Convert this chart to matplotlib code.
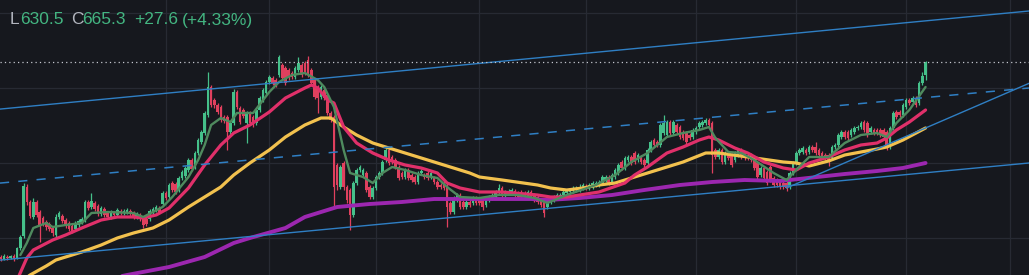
import matplotlib
matplotlib.use("Agg")
import matplotlib.pyplot as plt
import numpy as np

# OHLC (one candle per bar, left to right)
opens = [
    276, 272, 276, 274, 278, 274, 294, 318, 416, 386,
    356, 386, 366, 354, 346, 342, 334, 320, 356, 358,
    350, 344, 338, 332, 340, 346, 350, 386, 376, 384,
    378, 362, 372, 364, 356, 364, 360, 368, 364, 366,
    368, 364, 356, 360, 354, 352, 352, 366, 370, 374,
    382, 404, 396, 424, 422, 410, 434, 438, 450, 470,
    456, 484, 506, 524, 560, 616, 590, 580, 576, 556,
    556, 526, 544, 606, 574, 570, 544, 564, 556, 544,
    570, 590, 604, 626, 634, 630, 640, 660, 654, 650,
    644, 636, 650, 660, 664, 670, 650, 630, 616, 596,
    610, 600, 564, 556, 460, 416, 464, 416, 410, 360,
    424, 450, 440, 444, 416, 396, 414, 436, 444, 470,
    490, 476, 470, 456, 444, 436, 450, 440, 436, 426,
    444, 440, 444, 436, 434, 426, 420, 424, 420, 384,
    366, 390, 400, 386, 376, 386, 384, 394, 390, 390,
    380, 390, 394, 396, 406, 414, 400, 404, 406, 408,
    404, 402, 404, 398, 406, 400, 396, 390, 390, 376,
    386, 390, 394, 396, 400, 404, 406, 408, 410, 410,
    414, 418, 414, 416, 420, 420, 424, 430, 436, 426,
    436, 444, 466, 454, 470, 476, 484, 470, 476, 470,
    464, 490, 510, 506, 500, 524, 520, 546, 524, 540,
    536, 526, 524, 520, 516, 526, 536, 540, 544, 550,
    544, 490, 476, 490, 466, 484, 480, 470, 480, 490,
    484, 480, 480, 476, 464, 440, 454, 446, 456, 434,
    430, 426, 424, 424, 416, 444, 464, 484, 486, 490,
    486, 496, 496, 490, 484, 480, 480, 474, 496, 500,
    516, 526, 526, 520, 526, 534, 536, 546, 544, 526,
    530, 530, 530, 530, 526, 496, 534, 566, 566, 560,
    576, 590, 586, 594, 584, 624, 641,
]
closes = [
    272, 278, 274, 278, 272, 294, 316, 418, 386, 358,
    386, 360, 340, 342, 336, 332, 324, 356, 364, 348,
    338, 332, 328, 344, 348, 352, 386, 374, 388, 372,
    362, 374, 360, 356, 366, 360, 370, 364, 368, 370,
    362, 356, 362, 352, 340, 342, 368, 372, 376, 366,
    404, 394, 420, 410, 406, 434, 446, 454, 470, 452,
    484, 510, 526, 564, 616, 580, 580, 566, 550, 548,
    526, 544, 606, 576, 546, 558, 564, 544, 540, 570,
    594, 610, 626, 636, 624, 620, 676, 634, 624, 634,
    636, 654, 664, 640, 644, 640, 624, 596, 594, 616,
    594, 564, 550, 416, 420, 456, 416, 390, 360, 424,
    450, 456, 450, 410, 396, 414, 436, 444, 466, 490,
    464, 466, 456, 434, 436, 450, 434, 430, 426, 444,
    448, 436, 434, 444, 426, 416, 416, 414, 376, 366,
    394, 400, 376, 376, 386, 380, 394, 384, 384, 376,
    390, 396, 400, 406, 414, 400, 406, 408, 410, 400,
    396, 396, 398, 406, 396, 390, 386, 380, 364, 390,
    394, 396, 400, 400, 406, 408, 410, 414, 414, 416,
    420, 414, 420, 424, 424, 426, 436, 436, 424, 440,
    450, 460, 454, 474, 476, 464, 466, 480, 466, 460,
    490, 506, 500, 500, 540, 544, 546, 524, 546, 526,
    516, 514, 506, 514, 530, 534, 544, 546, 550, 540,
    480, 476, 490, 466, 484, 474, 460, 484, 490, 476,
    474, 474, 470, 454, 436, 454, 434, 424, 430, 420,
    420, 416, 416, 414, 444, 464, 484, 490, 494, 484,
    496, 490, 484, 480, 476, 474, 470, 496, 500, 520,
    526, 516, 514, 530, 534, 536, 544, 530, 520, 534,
    524, 524, 520, 516, 496, 534, 564, 556, 560, 580,
    590, 584, 594, 580, 624, 637.7, 665.3,
]
highs = [
    280, 282, 280, 280, 282, 296, 320, 424, 422, 390,
    394, 390, 370, 358, 350, 346, 338, 362, 368, 362,
    354, 348, 342, 348, 352, 356, 390, 390, 404, 388,
    382, 378, 376, 368, 370, 368, 374, 372, 372, 374,
    372, 368, 366, 364, 358, 356, 372, 376, 380, 378,
    408, 408, 424, 428, 426, 438, 450, 458, 474, 474,
    488, 514, 530, 568, 646, 620, 594, 584, 580, 560,
    560, 548, 612, 610, 578, 574, 568, 568, 560, 574,
    598, 614, 630, 640, 638, 634, 680, 664, 658, 654,
    648, 658, 676, 664, 668, 678, 654, 634, 620, 620,
    614, 604, 568, 560, 464, 460, 468, 420, 414, 428,
    454, 460, 454, 448, 420, 418, 440, 448, 470, 494,
    494, 480, 474, 460, 448, 454, 454, 444, 440, 448,
    452, 444, 448, 448, 438, 430, 424, 428, 424, 388,
    398, 404, 404, 390, 390, 390, 398, 398, 394, 394,
    394, 400, 404, 410, 422, 418, 410, 412, 414, 412,
    408, 410, 408, 410, 410, 404, 400, 394, 394, 394,
    398, 400, 404, 404, 410, 412, 414, 418, 418, 422,
    424, 422, 424, 428, 428, 430, 440, 440, 440, 444,
    454, 464, 470, 478, 480, 480, 488, 484, 480, 474,
    494, 510, 514, 510, 544, 560, 550, 550, 550, 544,
    540, 530, 528, 524, 534, 538, 548, 550, 554, 554,
    548, 494, 494, 494, 488, 488, 484, 488, 494, 494,
    488, 484, 484, 480, 468, 458, 458, 450, 460, 438,
    434, 430, 428, 428, 448, 468, 488, 494, 498, 494,
    500, 500, 506, 494, 488, 484, 484, 500, 504, 524,
    530, 530, 530, 534, 538, 540, 548, 550, 548, 538,
    534, 534, 534, 534, 530, 538, 568, 570, 570, 584,
    594, 594, 598, 598, 628, 646, 669,
]
lows = [
    268, 270, 270, 272, 268, 272, 290, 314, 380, 354,
    352, 356, 306, 338, 330, 328, 318, 316, 352, 344,
    334, 328, 324, 328, 336, 342, 346, 370, 372, 368,
    358, 358, 356, 352, 352, 356, 356, 360, 360, 362,
    358, 352, 352, 348, 334, 338, 348, 362, 366, 362,
    378, 390, 392, 406, 402, 406, 430, 434, 446, 448,
    452, 480, 502, 520, 556, 576, 574, 562, 546, 544,
    490, 522, 540, 572, 542, 554, 504, 540, 536, 540,
    566, 586, 600, 622, 620, 616, 636, 630, 620, 630,
    632, 632, 646, 636, 640, 636, 620, 592, 564, 592,
    590, 560, 546, 376, 410, 412, 410, 384, 330, 356,
    420, 446, 436, 406, 392, 392, 410, 432, 440, 466,
    460, 462, 452, 430, 432, 432, 430, 426, 422, 422,
    440, 432, 430, 432, 422, 412, 412, 410, 336, 362,
    362, 386, 372, 372, 372, 376, 380, 380, 380, 370,
    376, 386, 390, 392, 402, 396, 396, 400, 402, 396,
    392, 392, 394, 394, 392, 386, 382, 376, 356, 372,
    382, 386, 390, 392, 396, 400, 402, 404, 406, 406,
    410, 410, 410, 412, 416, 416, 420, 426, 420, 422,
    432, 440, 450, 450, 466, 460, 462, 466, 462, 456,
    460, 486, 496, 496, 496, 520, 516, 520, 520, 522,
    512, 510, 502, 510, 512, 522, 532, 536, 540, 536,
    444, 472, 472, 462, 462, 470, 456, 466, 476, 472,
    470, 470, 466, 450, 432, 436, 430, 420, 426, 416,
    416, 412, 412, 408, 412, 440, 460, 480, 482, 480,
    482, 486, 480, 476, 472, 470, 458, 470, 492, 496,
    512, 512, 510, 516, 522, 530, 532, 526, 516, 522,
    520, 520, 516, 512, 490, 492, 530, 552, 556, 556,
    572, 580, 582, 576, 580, 620, 630.5,
]

# moving averages, sampled at bar indices
ma_fast_idx = [6, 8, 10, 14, 16, 20, 25, 28, 33, 41, 44, 47, 50, 53, 58, 61, 63, 65,
               68, 71, 73, 78, 83, 86, 90, 94, 98, 100, 103, 106, 108, 112, 115, 118,
               121, 125, 130, 135, 138, 142, 148, 154, 160, 165, 169, 175, 184, 190,
               195, 200, 206, 211, 216, 219, 221, 225, 229, 233, 239, 243, 246, 250,
               256, 261, 266, 271, 274, 277, 281, 286]
ma_fast = [280, 304, 334, 344, 336, 340, 344, 364, 366, 364, 356, 366, 376, 396, 436,
           470, 500, 540, 554, 546, 564, 564, 606, 626, 640, 644, 630, 616, 576, 490,
           444, 436, 424, 444, 456, 450, 440, 434, 416, 396, 394, 400, 400, 394, 384,
           400, 420, 440, 466, 484, 516, 524, 530, 536, 514, 486, 484, 470, 444, 430,
           450, 476, 476, 504, 520, 524, 516, 544, 570, 616]

ma_mid_idx = [5, 8, 10, 16, 20, 25, 31, 36, 41, 44, 48, 52, 58, 63, 68, 72, 77, 83, 88,
              94, 96, 98, 101, 103, 106, 110, 115, 120, 125, 130, 135, 138, 142, 148,
              155, 166, 170, 175, 185, 193, 196, 200, 206, 211, 216, 219, 222, 227, 231,
              236, 242, 246, 250, 256, 261, 266, 271, 274, 277, 281, 286]
ma_mid = [230, 274, 290, 310, 320, 334, 350, 356, 356, 354, 360, 374, 414, 460, 500, 524,
          540, 566, 594, 614, 620, 614, 590, 584, 536, 504, 484, 470, 460, 454, 444, 424,
          414, 406, 406, 400, 396, 396, 406, 424, 440, 456, 484, 496, 510, 516, 510, 494,
          484, 466, 454, 450, 464, 476, 490, 500, 504, 514, 530, 546, 570]

ma_slow_idx = [6, 9, 14, 17, 20, 25, 31, 36, 41, 47, 52, 58, 63, 68, 72, 77, 83, 88, 94,
               99, 102, 106, 110, 115, 120, 125, 130, 135, 140, 145, 148, 155, 166, 170,
               175, 180, 185, 190, 200, 211, 218, 222, 231, 242, 246, 250, 256, 261, 266,
               271, 274, 279, 286]
ma_slow = [226, 240, 258, 270, 276, 286, 300, 314, 324, 334, 350, 376, 396, 416, 440, 464,
           490, 516, 540, 554, 554, 536, 520, 504, 494, 484, 474, 464, 454, 444, 436, 430,
           420, 414, 410, 414, 420, 424, 444, 466, 484, 484, 476, 466, 464, 458, 468, 480,
           486, 492, 496, 510, 534]

ma_long_idx = [33, 39, 52, 63, 72, 77, 88, 94, 104, 114, 124, 134, 144, 154, 164, 169, 179,
               189, 199, 210, 220, 230, 241, 244, 261, 271, 279, 286]
ma_long = [232, 240, 256, 276, 304, 314, 334, 356, 376, 382, 386, 392, 392, 392, 392, 390,
           394, 400, 410, 420, 426, 430, 428, 430, 442, 448, 454, 464]

# drawn trend lines: two anchor points (bar index, price)
upper_channel = [(0, 572), (318, 768)]
mid_channel = [(0, 424), (318, 614)]
lower_channel = [(0, 270), (318, 464)]
trend_ray = [(243, 414), (286, 534)]

last_price = 665.3
grid_bars = [51, 83, 116, 148, 181, 215, 246, 280, 312]
grid_prices = [315, 465, 615, 765]

BG = "#16181e"
UP = "#45c08a"
DOWN = "#e0405e"
BLUE = "#2f7fc4"

o = np.array(opens, dtype=float)
c = np.array(closes, dtype=float)
h = np.array(highs, dtype=float)
l = np.array(lows, dtype=float)
idx = np.arange(len(o))
cols = np.where(c >= o, UP, DOWN)

fig = plt.figure(figsize=(10.29, 2.75), dpi=100, facecolor=BG)
ax = fig.add_axes([0, 0, 1, 1])
ax.set_facecolor(BG)
xmin, xmax = -0.3, 318
ax.set_xlim(xmin, xmax)
ax.set_ylim(240, 790)

for g in grid_bars:
    ax.axvline(g, color="#272a33", lw=0.9, zorder=0)
for g in grid_prices:
    ax.axhline(g, color="#272a33", lw=0.9, zorder=0)

# candles
ax.vlines(idx, l, h, colors=cols, lw=0.9, zorder=2)
body = np.maximum(np.abs(c - o), 1.5)
ax.bar(idx, body, bottom=np.minimum(o, c), width=0.8, color=cols, lw=0, zorder=3)

# moving averages
ax.plot(ma_long_idx, ma_long, color="#9c27b0", lw=2.8, zorder=4, solid_capstyle="round")
ax.plot(ma_slow_idx, ma_slow, color="#f2c14e", lw=2.3, zorder=4, solid_capstyle="round")
ax.plot(ma_mid_idx, ma_mid, color="#e0306a", lw=2.3, zorder=4, solid_capstyle="round")
ax.plot(ma_fast_idx, ma_fast, color="#4f8a5e", lw=1.7, zorder=4, solid_capstyle="round")

# channel and trend lines
ax.axline(*upper_channel, color=BLUE, lw=1.0, zorder=5)
ax.axline(*mid_channel, color=BLUE, lw=1.1, ls=(0, (6, 6)), zorder=5)
ax.axline(*lower_channel, color=BLUE, lw=1.0, zorder=5)
(x0, y0), (x1, y1) = trend_ray
slope = (y1 - y0) / (x1 - x0)
ax.plot([x0, xmax], [y0, y0 + slope * (xmax - x0)], color=BLUE, lw=1.0, zorder=5)

ax.axhline(last_price, color="#c4c7ce", lw=0.9, ls=(0, (1, 2.5)), zorder=5)

ax.set_xticks([])
ax.set_yticks([])
for s in ax.spines.values():
    s.set_visible(False)

# header legend
W, H = 1029, 275
GREY = "#b2b5be"
GREEN = "#43b581"
parts = [(10, "L", GREY), (20, "630.5", GREEN), (71, "C", GREY), (82, "665.3", GREEN),
         (134, "+27.6", GREEN), (182, "(+4.33%)", GREEN)]
for px, txt, col in parts:
    fig.text(px / W, 1 - 20 / H, txt, color=col, fontsize=12.5, family="Liberation Sans",
             va="center", ha="left")

fig.savefig("out.png", dpi=100, facecolor=BG)
